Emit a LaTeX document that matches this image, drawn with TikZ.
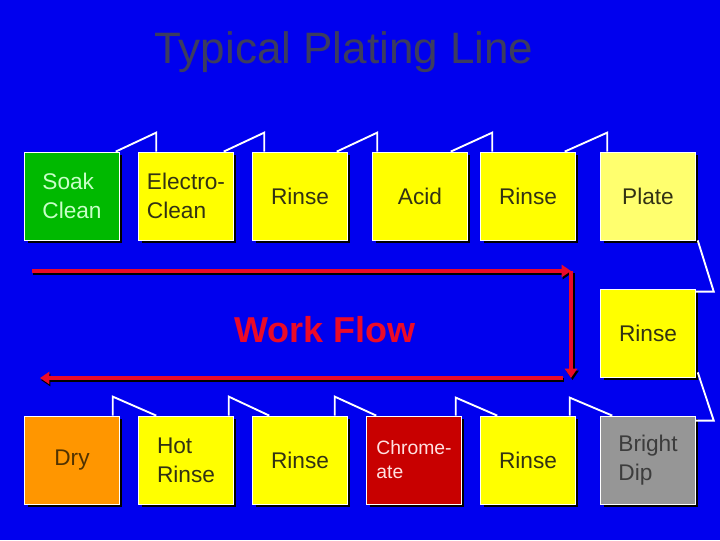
\documentclass[tikz,border=0pt]{standalone}
\usepackage{fontspec}
\setmainfont{Liberation Sans}
\usepackage{tikz}
\usetikzlibrary{calc, shadows, arrows.meta}
\definecolor{bluebg}{RGB}{0,0,238}
\definecolor{tankyellow}{RGB}{255,255,0}
\definecolor{platey}{RGB}{255,255,110}
\definecolor{soakgreen}{RGB}{0,185,0}
\definecolor{dryorange}{RGB}{255,150,0}
\definecolor{chromered}{RGB}{200,0,0}
\definecolor{dipgray}{RGB}{150,150,150}
\definecolor{inkdark}{RGB}{50,50,20}
\definecolor{titlegray}{RGB}{60,60,95}
\definecolor{flowred}{RGB}{235,10,40}
\tikzset{
  tank/.style={draw=white, line width=0.6pt, fill=tankyellow, text=inkdark,
    minimum width=71pt, minimum height=66pt, inner sep=1pt, align=left,
    font=\fontsize{17}{21.5}\selectfont,
    drop shadow={shadow xshift=2.2pt, shadow yshift=-2.2pt, fill=black, opacity=1}},
  link/.style={draw=white, line width=1.4pt},
  flow/.style={draw=flowred, line width=3pt, -{Triangle[length=7pt, width=9pt]}},
  flowshade/.style={draw=black, line width=3pt, -{Triangle[length=7pt, width=9pt]}}
}
\begin{document}
\begin{tikzpicture}[x=0.75pt, y=-0.75pt]
                \fill[bluebg] (0,0) rectangle (720,540);
                \useasboundingbox (0,0) rectangle (720,540);
                \node[text=titlegray, anchor=base, font=\fontsize{33}{36}\selectfont] (title) at (344,63) {Typical Plating Line};
                \node[tank, fill=soakgreen, text={rgb,255:red,200;green,255;blue,200}] (soak) at (72,196) {Soak\\Clean};
                \node[tank] (elec) at (186,196) {Electro-\\Clean};
                \node[tank] (rinseA) at (300,196) {Rinse};
                \node[tank] (acid) at (420,196) {Acid};
                \node[tank] (rinseB) at (528,196) {Rinse};
                \node[tank, fill=platey] (plate) at (648,196) {Plate};
                \node[tank] (rinseC) at (648,333) {Rinse};
                \node[tank, fill=dipgray, text={rgb,255:red,60;green,60;blue,60}] (dip) at (648,460) {Bright\\Dip};
                \node[tank] (rinseD) at (528,460) {Rinse};
                \node[tank, fill=chromered, text={rgb,255:red,255;green,225;blue,225}, font=\fontsize{14.5}{18}\selectfont] (chrome) at (414,460) {Chrome-\\ate};
                \node[tank] (rinseE) at (300,460) {Rinse};
                \node[tank] (hot) at (186,460) {Hot\\Rinse};
                \node[tank, fill=dryorange, text={rgb,255:red,80;green,50;blue,0}] (dry) at (72,460) {Dry};
                \node[text=flowred, anchor=base, font=\bfseries\fontsize{27}{30}\selectfont] (work) at (325,342) {Work Flow};
                \draw[link] ($(soak.north east)+(-4,0)$) -- ($(elec.north west)+(18,-19)$) -- ($(elec.north west)+(18,0)$);
                \draw[link] ($(elec.north east)+(-10,0)$) -- ($(rinseA.north west)+(12,-19)$) -- ($(rinseA.north west)+(12,0)$);
                \draw[link] ($(rinseA.north east)+(-11,0)$) -- ($(acid.north west)+(5,-19)$) -- ($(acid.north west)+(5,0)$);
                \draw[link] ($(acid.north east)+(-17,0)$) -- ($(rinseB.north west)+(12,-19)$) -- ($(rinseB.north west)+(12,0)$);
                \draw[link] ($(rinseB.north east)+(-11,0)$) -- ($(plate.north west)+(7,-19)$) -- ($(plate.north west)+(7,0)$);
                \draw[link] ($(plate.south east)+(2,0)$) -- ($(rinseC.north east)+(18,3)$) -- ($(rinseC.north east)+(0,3)$);
                \draw[link] ($(rinseC.south east)+(2,-5)$) -- ($(dip.north east)+(18,5)$) -- ($(dip.north east)+(0,5)$);
                \draw[link] ($(dip.north west)+(12,0)$) -- ($(rinseD.north east)+(-6,-18)$) -- ($(rinseD.north east)+(-6,0)$);
                \draw[link] ($(rinseD.north west)+(17,0)$) -- ($(chrome.north east)+(-6,-18)$) -- ($(chrome.north east)+(-6,0)$);
                \draw[link] ($(chrome.north west)+(10,0)$) -- ($(rinseE.north east)+(-13,-19)$) -- ($(rinseE.north east)+(-13,0)$);
                \draw[link] ($(rinseE.north west)+(17,0)$) -- ($(hot.north east)+(-5,-19)$) -- ($(hot.north east)+(-5,0)$);
                \draw[link] ($(hot.north west)+(18,0)$) -- ($(dry.north east)+(-7,-19)$) -- ($(dry.north east)+(-7,0)$);
                \coordinate (startT) at (32,271);
                \coordinate (turnT) at (571,271);
                \coordinate (turnB) at (571,378);
                \coordinate (startB) at (563,378);
                \coordinate (endB) at (40,378);
                \draw[flowshade] ($(startT)+(1,2)$) -- ($(turnT)+(1,2)$);
                \draw[flowshade] ($(turnT)+(1.5,2)$) -- ($(turnB)+(1.5,2)$);
                \draw[flowshade] ($(startB)+(1,2)$) -- ($(endB)+(1,2)$);
                \draw[flow] (startT) -- (turnT);
                \draw[flow] (turnT) -- (turnB);
                \draw[flow] (startB) -- (endB);
            \end{tikzpicture}
\end{document}
